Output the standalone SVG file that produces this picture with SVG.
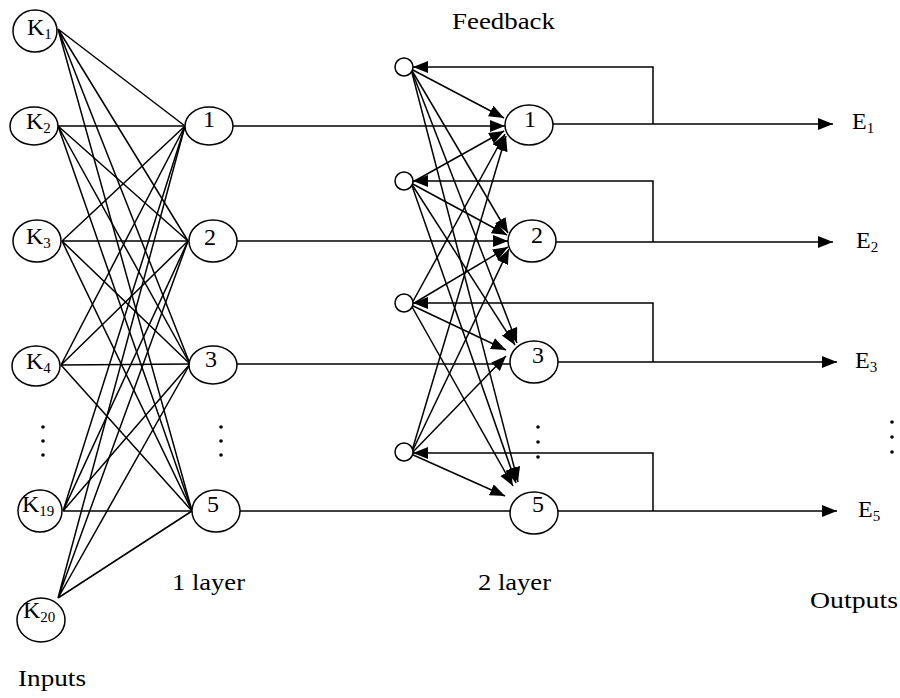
<svg xmlns="http://www.w3.org/2000/svg" width="900" height="698" viewBox="0 0 900 698">
<style>
.n{fill:#fff;stroke:#000;stroke-width:1.5}
.t{font-family:"Liberation Serif","Times New Roman",serif;font-size:24px;fill:#000}
.k{font-family:"Liberation Serif","Times New Roman",serif;font-size:24px;fill:#000}
.s{font-size:15px}
.l{stroke:#000;stroke-width:1.5;fill:none}
.a{stroke:#000;stroke-width:1.5;fill:none;marker-end:url(#ar)}
.d{fill:#000}
</style>
<defs>
<marker id="ar" markerUnits="userSpaceOnUse" markerWidth="16" markerHeight="13" refX="15" refY="6" orient="auto">
<path d="M0,0 L15,6 L0,12 z" fill="#000"/>
</marker>
</defs>
<rect width="900" height="698" fill="#fff"/>
<g id="connectors">
<!-- inputs to layer 1 -->
<path class="l" d="M58,29 L185,126 M58,29 L188,241 M58,29 L190,364 M58,29 L192,511"/>
<path class="l" d="M58,126 L185,126 M58,126 L188,241 M58,126 L190,364 M58,126 L192,511"/>
<path class="l" d="M62,241 L185,126 M62,241 L188,241 M62,241 L190,364 M62,241 L192,511"/>
<path class="l" d="M61,365 L185,126 M61,365 L188,241 M61,365 L190,364 M61,365 L192,511"/>
<path class="l" d="M63,511 L185,126 M63,511 L188,241 M63,511 L190,364 M63,511 L192,511"/>
<path class="l" d="M58,598 L185,126 M58,598 L188,241 M58,598 L190,364 M58,598 L192,511"/>
<!-- layer 1 to layer 2 -->
<path class="a" d="M233,126 L505,126"/>
<path class="a" d="M237,241 L508,241"/>
<path class="l" d="M237,364 L510,364"/>
<path class="l" d="M240,511 L510,511"/>
<!-- feedback circles to layer 2 -->
<path class="a" d="M411,69 L504,118"/>
<path class="a" d="M411,69 L508,233"/>
<path class="a" d="M411,69 L517,343"/>
<path class="a" d="M411,69 L518,482"/>
<path class="a" d="M411,183 L504,131"/>
<path class="a" d="M411,183 L507,235"/>
<path class="a" d="M411,183 L515,345"/>
<path class="a" d="M411,183 L516,483"/>
<path class="a" d="M411,305 L505,134"/>
<path class="a" d="M411,305 L508,247"/>
<path class="a" d="M411,305 L506,350"/>
<path class="a" d="M411,305 L513,486"/>
<path class="a" d="M411,454 L506,136"/>
<path class="a" d="M411,454 L509,249"/>
<path class="a" d="M411,454 L506,356"/>
<path class="a" d="M411,454 L505,496"/>
<!-- outputs -->
<path class="a" d="M553,124 L833,124"/>
<path class="a" d="M556,242 L833,242"/>
<path class="a" d="M558,362 L837,362"/>
<path class="a" d="M558,511 L837,511"/>
<!-- feedback loops -->
<path class="a" d="M653,124 L653,67 L413,67"/>
<path class="a" d="M653,242 L653,181 L413,181"/>
<path class="a" d="M653,362 L653,303 L413,303"/>
<path class="a" d="M653,511 L653,453 L413,453"/>
</g>
<g id="in-k1"><ellipse class="n" cx="35" cy="31" rx="22" ry="21"/><text class="k" x="27" y="35">K<tspan class="s" dy="4">1</tspan></text></g>
<g id="in-k2"><ellipse class="n" cx="34" cy="126" rx="24" ry="19"/><text class="k" x="26" y="129">K<tspan class="s" dy="4">2</tspan></text></g>
<g id="in-k3"><ellipse class="n" cx="37" cy="241" rx="24" ry="21"/><text class="k" x="26" y="244">K<tspan class="s" dy="4">3</tspan></text></g>
<g id="in-k4"><ellipse class="n" cx="36" cy="366" rx="24" ry="20"/><text class="k" x="26" y="369">K<tspan class="s" dy="4">4</tspan></text></g>
<g id="in-k19"><ellipse class="n" cx="40" cy="511" rx="22" ry="21"/><text class="k" x="22" y="512">K<tspan class="s" dy="4">19</tspan></text></g>
<g id="in-k20"><ellipse class="n" cx="41" cy="620" rx="24" ry="22"/><text class="k" x="23" y="618">K<tspan class="s" dy="4">20</tspan></text></g>
<g id="in-dots"><circle class="d" cx="43" cy="427" r="1.8"/><circle class="d" cx="43" cy="441" r="1.8"/><circle class="d" cx="43" cy="455" r="1.8"/></g>
<g id="l1-1"><ellipse class="n" cx="209" cy="126" rx="24" ry="19"/><text class="t" x="203" y="127">1</text></g>
<g id="l1-2"><ellipse class="n" cx="213" cy="241" rx="24" ry="21"/><text class="t" x="204" y="245">2</text></g>
<g id="l1-3"><ellipse class="n" cx="213" cy="365" rx="24" ry="19"/><text class="t" x="205" y="367">3</text></g>
<g id="l1-5"><ellipse class="n" cx="216" cy="511" rx="24" ry="21"/><text class="t" x="207" y="512">5</text></g>
<g id="l1-dots"><circle class="d" cx="221" cy="427" r="1.8"/><circle class="d" cx="221" cy="441" r="1.8"/><circle class="d" cx="221" cy="455" r="1.8"/></g>
<g id="fb-1"><circle class="n" cx="404" cy="67" r="9"/></g>
<g id="fb-2"><circle class="n" cx="404" cy="181" r="9"/></g>
<g id="fb-3"><circle class="n" cx="404" cy="303" r="9"/></g>
<g id="fb-4"><circle class="n" cx="404" cy="452" r="9"/></g>
<g id="l2-1"><ellipse class="n" cx="529" cy="125" rx="24" ry="20"/><text class="t" x="524" y="127">1</text></g>
<g id="l2-2"><ellipse class="n" cx="532" cy="241" rx="24" ry="21"/><text class="t" x="531" y="243">2</text></g>
<g id="l2-3"><ellipse class="n" cx="534" cy="362" rx="24" ry="21"/><text class="t" x="532" y="363">3</text></g>
<g id="l2-5"><ellipse class="n" cx="534" cy="513" rx="24" ry="21"/><text class="t" x="532" y="512">5</text></g>
<g id="l2-dots"><circle class="d" cx="538" cy="427" r="1.8"/><circle class="d" cx="538" cy="442" r="1.8"/><circle class="d" cx="538" cy="457" r="1.8"/></g>
<g id="out-e1"><text class="k" x="852" y="129">E<tspan class="s" dy="4">1</tspan></text></g>
<g id="out-e2"><text class="k" x="856" y="248">E<tspan class="s" dy="4">2</tspan></text></g>
<g id="out-e3"><text class="k" x="855" y="368">E<tspan class="s" dy="4">3</tspan></text></g>
<g id="out-e5"><text class="k" x="858" y="517">E<tspan class="s" dy="4">5</tspan></text></g>
<g id="out-dots"><circle class="d" cx="892" cy="422" r="1.8"/><circle class="d" cx="892" cy="437" r="1.8"/><circle class="d" cx="892" cy="452" r="1.8"/></g>
<g id="labels">
<text class="t" x="452" y="29" textLength="103" lengthAdjust="spacingAndGlyphs">Feedback</text>
<text class="t" x="172" y="590" textLength="73" lengthAdjust="spacingAndGlyphs">1 layer</text>
<text class="t" x="478" y="590" textLength="73" lengthAdjust="spacingAndGlyphs">2 layer</text>
<text class="t" x="810" y="608" textLength="88" lengthAdjust="spacingAndGlyphs">Outputs</text>
<text class="t" x="18" y="686" textLength="68" lengthAdjust="spacingAndGlyphs">Inputs</text>
</g>
</svg>
